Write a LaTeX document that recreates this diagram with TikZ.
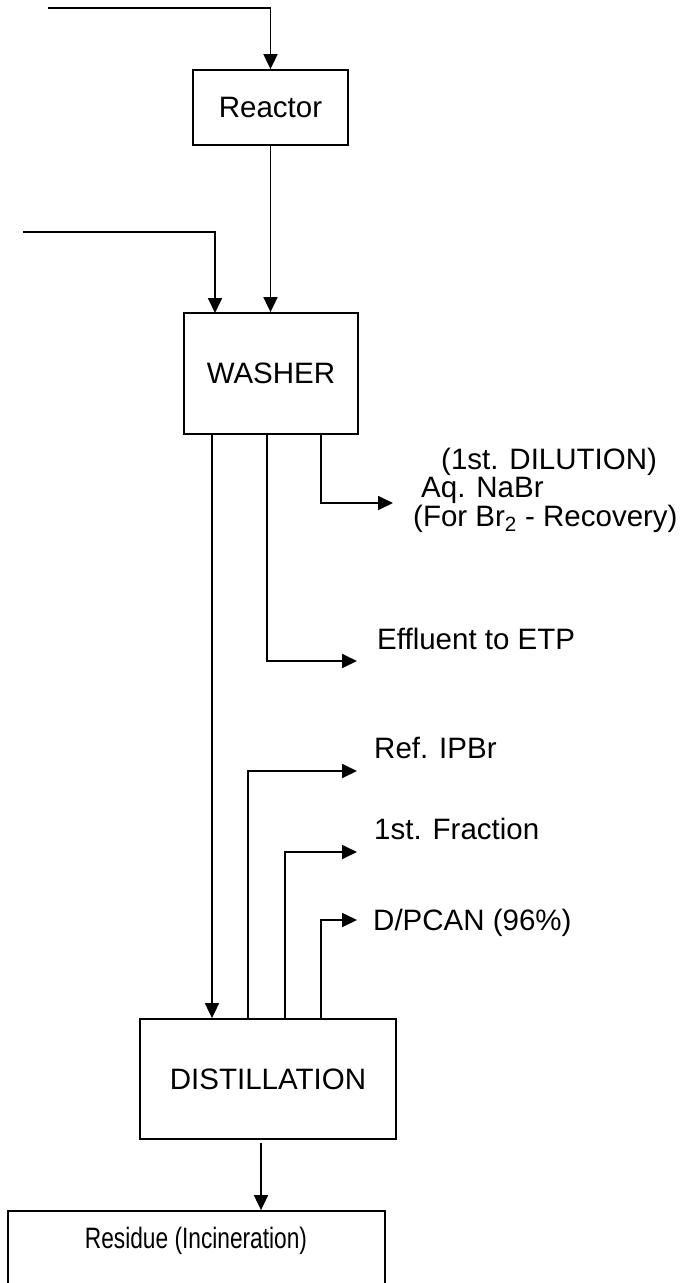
\documentclass[tikz,border=0pt]{standalone}
\usepackage{fontspec}
\setmainfont{Liberation Sans}
\usetikzlibrary{arrows.meta}
\begin{document}
\begin{tikzpicture}[x=1pt,y=-1pt,
  every node/.style={font=\fontsize{29.5}{29.5}\selectfont},
  procbox/.style={draw,line width=1.8pt,inner sep=0pt,rectangle},
  flow/.style={line width=1.8pt},
  flowar/.style={line width=1.8pt,-{Triangle[length=15pt,width=14pt]}},
  lbl/.style={anchor=base west,inner sep=0pt}]
\clip (0,0) rectangle (681,1283);
\fill[white] (0,0) rectangle (681,1283);
% boxes
\node[procbox,minimum width=155pt,minimum height=75pt] (reactor) at (270.5,107.5) {Reactor};
\node[procbox,minimum width=174pt,minimum height=121pt] (washer) at (271,373.5) {WASHER};
\node[procbox,minimum width=256pt,minimum height=120pt] (distill) at (268,1079) {DISTILLATION};
\node[procbox,minimum width=377pt,minimum height=120pt] (residue) at (196.5,1271) {};
\node[anchor=base,inner sep=0pt] (restext) at (196,1248) {\scalebox{0.77}[1]{Residue (Incineration)}};
% feeds
\coordinate (feed1) at (48,8);
\coordinate (feed2) at (23,232);
\coordinate (wtop2) at (215,313);
\draw[flowar] (feed1) -| (reactor.north);
\draw[flowar] (feed2) -| (wtop2);
\draw[flowar] (reactor.south) -- (reactor.south |- washer.north);
% washer outputs
\coordinate (wb1) at (212,434);
\coordinate (wb2) at (267,434);
\coordinate (wb3) at (321,434);
\coordinate (naend) at (393,503);
\coordinate (effend) at (357,661);
\draw[flowar] (wb3) |- (naend);
\draw[flowar] (wb2) |- (effend);
\draw[flowar] (wb1) -- (wb1 |- distill.north);
% distillation outputs
\coordinate (dt1) at (248,1019);
\coordinate (dt2) at (285,1019);
\coordinate (dt3) at (321,1019);
\coordinate (refend) at (357,771);
\coordinate (fracend) at (357,852);
\coordinate (dpend) at (357,920);
\draw[flowar] (dt1) |- (refend);
\draw[flowar] (dt2) |- (fracend);
\draw[flowar] (dt3) |- (dpend);
% to residue
\coordinate (db) at (261,1143);
\draw[flowar] (db) -- (db |- residue.north);
% labels
\node[lbl] (dil1) at (441,469) {(1st. DILUTION)};
\node[lbl] (dil2) at (421,497) {Aq. NaBr};
\node[lbl] (dil3) at (413,526) {(For Br\textsubscript{2} - Recovery)};
\node[lbl] (eff) at (377,649) {Effluent to ETP};
\node[lbl] (ref) at (374,758) {Ref. IPBr};
\node[lbl] (frac) at (374,839) {1st. Fraction};
\node[lbl] (dpcan) at (373,930) {D/PCAN (96\%)};
\end{tikzpicture}
\end{document}
